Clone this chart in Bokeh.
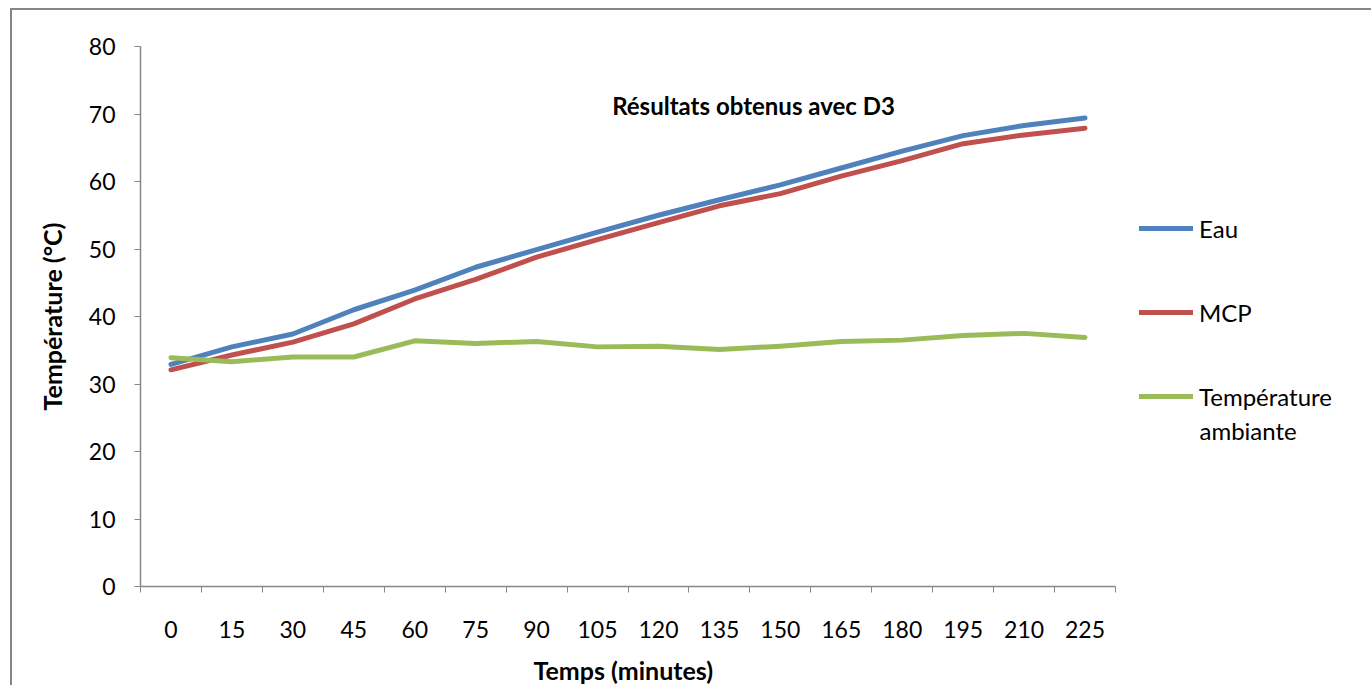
from bokeh.plotting import figure
from bokeh.models import (Range1d, FixedTicker, Legend, LegendItem, Label,
                          Title, InlineStyleSheet)
from bokeh.embed import file_html
from bokeh.resources import INLINE

# Measurement times (minutes) and temperatures (°C)
times = [0, 15, 30, 45, 60, 75, 90, 105, 120, 135, 150, 165, 180, 195, 210, 225]
eau = [32.9, 35.5, 37.4, 41.0, 43.9, 47.3, 49.9, 52.5, 55.0, 57.3, 59.5, 62.0,
       64.5, 66.8, 68.3, 69.4]
mcp = [32.1, 34.3, 36.2, 38.9, 42.6, 45.5, 48.8, 51.4, 53.9, 56.4, 58.2, 60.8,
       63.1, 65.6, 66.9, 67.9]
ambiante = [33.9, 33.3, 34.0, 34.0, 36.4, 36.0, 36.3, 35.5, 35.6, 35.1, 35.6,
            36.3, 36.5, 37.2, 37.5, 36.9]
y_ticks = [0, 10, 20, 30, 40, 50, 60, 70, 80]

series_names = ["Eau", "MCP", "Température"]
series_colors = ["#4F81BD", "#C0504D", "#9BBB59"]

W, H = 1371, 685
# axis box in page pixels (x axis from LEFT to RIGHT, y axis from TOP to BOTTOM)
LEFT, RIGHT, TOP, BOTTOM = 140, 1115, 46, 586
FONT = "Lato"
AXIS_GRAY = "#868686"

step = times[1] - times[0]
x0, x1 = times[0] - step / 2, times[-1] + step / 2
y0, y1 = 0, 80


def px_x(px):
    return x0 + (px - LEFT) / (RIGHT - LEFT) * (x1 - x0)


def px_y(py):
    return y0 + (BOTTOM - py) / (BOTTOM - TOP) * (y1 - y0)


# the frame reaches the right page edge so the legend fits inside it;
# the x axis is bounded to the data extent
p = figure(width=W, height=H, output_backend="svg", toolbar_location=None,
           x_range=Range1d(x0, px_x(W)), y_range=Range1d(y0, y1),
           min_border_left=LEFT, min_border_right=0,
           min_border_top=TOP, min_border_bottom=H - BOTTOM)
p.outline_line_color = None
p.xgrid.visible = False
p.ygrid.visible = False
p.background_fill_color = "white"
p.border_fill_color = "white"

# category-style x axis: labels at the points, tick marks between them
xa = p.xaxis[0]
xa.bounds = (x0, x1)
xa.ticker = FixedTicker(ticks=times, minor_ticks=[t - step / 2 for t in times] + [x1])
xa.major_label_overrides = {t: str(t) for t in times}
xa.major_tick_out = 0
xa.major_tick_in = 0
xa.minor_tick_out = 6
xa.minor_tick_in = 0
xa.minor_tick_line_color = AXIS_GRAY
xa.axis_line_color = AXIS_GRAY
xa.axis_line_width = 1.5
xa.major_label_standoff = 28
xa.major_label_text_font = FONT
xa.major_label_text_font_size = "23px"
xa.major_label_text_color = "black"

# x axis title, centred under the bounded axis
p.add_layout(Title(text="Temps (minutes)", align="left", offset=393,
                   standoff=0, padding=dict(top=12, bottom=0, left=0, right=0),
                   text_line_height=1.0, text_font=FONT, text_font_size="25px",
                   text_font_style="bold", text_color="black"), "below")

ya = p.yaxis[0]
ya.ticker = FixedTicker(ticks=y_ticks, minor_ticks=[])
ya.major_tick_out = 6
ya.major_tick_in = 0
ya.major_tick_line_color = AXIS_GRAY
ya.axis_line_color = AXIS_GRAY
ya.axis_line_width = 1.5
ya.major_label_standoff = 19
ya.major_label_text_font = FONT
ya.major_label_text_font_size = "23px"
ya.major_label_text_color = "black"
ya.axis_label = "Température (°C)"
ya.axis_label_text_font = FONT
ya.axis_label_text_font_style = "bold"
ya.axis_label_text_font_size = "25px"
ya.axis_label_text_color = "black"
ya.axis_label_standoff = 19

renderers = []
for data, color in zip([eau, mcp, ambiante], series_colors):
    r = p.line(times, data, line_color=color, line_width=5,
               line_cap="round", line_join="round")
    renderers.append(r)

# legend to the right of the axes
legend = Legend(items=[LegendItem(label=n, renderers=[r])
                       for n, r in zip(series_names, renderers)],
                location=(999, 175), orientation="vertical",
                glyph_width=54, glyph_height=30, label_height=30,
                label_standoff=6, spacing=54, padding=0, margin=0,
                border_line_color=None, background_fill_alpha=0,
                label_text_font=FONT, label_text_font_size="24px",
                label_text_color="black")
p.add_layout(legend, "center")

# second line of the last legend entry
p.add_layout(Label(x=px_x(1199), y=px_y(430), text="ambiante",
                   text_font=FONT, text_font_size="24px", text_color="black",
                   text_align="left", text_baseline="middle"))

# chart title
p.add_layout(Label(x=px_x(753), y=px_y(105), text="Résultats obtenus avec D3",
                   text_font=FONT, text_font_size="24px", text_font_style="bold",
                   text_color="black", text_align="center",
                   text_baseline="middle"))

# chart-area border along the top and left edges
p.stylesheets = [InlineStyleSheet(css="""
:host::after {
  content: "";
  position: absolute;
  left: 10px; top: 8px; right: 0; bottom: 0;
  border-top: 2px solid #868686;
  border-left: 2px solid #868686;
  pointer-events: none;
}
""")]

open("out.html", "w").write(file_html(p, INLINE))
